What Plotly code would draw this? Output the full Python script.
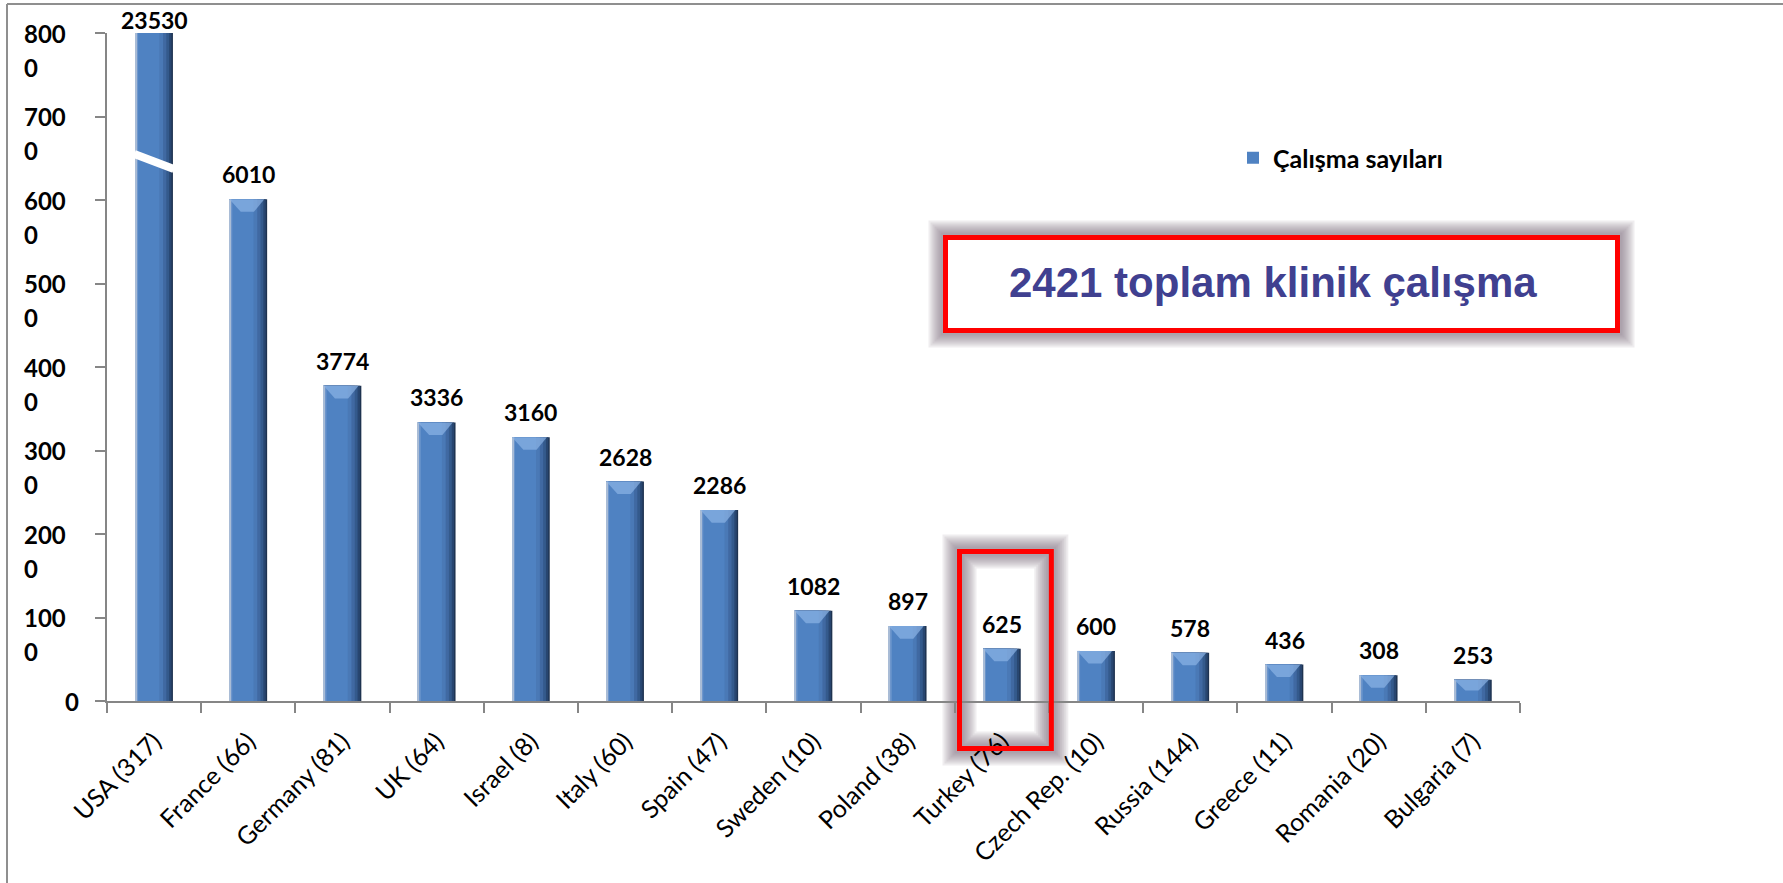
import plotly.graph_objects as go

# ---------------- data ----------------
countries = ["USA (317)", "France (66)", "Germany (81)", "UK (64)", "Israel (8)",
             "Italy (60)", "Spain (47)", "Sweden (10)", "Poland (38)", "Turkey (76)",
             "Czech Rep. (10)", "Russia (144)", "Greece (11)", "Romania (20)", "Bulgaria (7)"]
values = [23530, 6010, 3774, 3336, 3160, 2628, 2286, 1082, 897, 625, 600, 578, 436, 308, 253]
legend_name = "Çalışma sayıları"
total_text = "2421 toplam klinik çalışma"
highlight = "Turkey (76)"
y_max = 8000
y_ticks = [0, 1000, 2000, 3000, 4000, 5000, 6000, 7000, 8000]
break_values = (6550, 6370)   # where the axis-break gap crosses the clipped bar (left, right)

# ---------------- geometry (pixels) ----------------
W, H = 1783, 883
L, R, T, B = 107, 263, 33, 182
pw, ph = W - L - R, H - T - B
n = len(countries)


def px_x(p):
    return (p - L) / pw


def px_y(p):
    return (H - B - p) / ph


def cat_x(i):
    return (i + 0.5) / n


fig = go.Figure()

half = 0.20
main_colour = "#4F82C2"
layers = [  # (width from left edge, colour)
    (0.40, "#1E3350"),
    (0.385, "#284670"),
    (0.36, "#345A8C"),
    (0.33, "#4069A2"),
    (0.295, "#4A79B6"),
    (0.255, main_colour),
    (0.03, "#6E96CC"),
    (0.012, "#A9BCD6"),
]
for w, c in layers:
    fig.add_trace(go.Bar(
        x=countries, y=values, width=w, offset=-half,
        marker=dict(color=c, line=dict(width=0)),
        name=legend_name, showlegend=(c == main_colour),
        hoverinfo="skip" if c != main_colour else None,
    ))

shapes = []
annotations = []

# top chevron caps (only for bars that are not clipped)
cap_h = 150
for i, v in enumerate(values):
    if v <= y_max:
        h = min(cap_h, v * 0.5)
        shapes.append(dict(
            type="path", xref="x", yref="y", layer="above",
            path=f"M {i-half},{v} L {i+half-0.03},{v} L {i+0.06},{v-h} L {i-0.08},{v-h} Z",
            fillcolor="rgba(140,180,230,0.7)", line=dict(width=0)))

# axis break on clipped bar
i_max = values.index(max(values))
shapes.append(dict(type="line", xref="x", yref="y", layer="above",
                   x0=i_max - half - 0.01, y0=break_values[0],
                   x1=i_max + half + 0.01, y1=break_values[1],
                   line=dict(color="white", width=8)))

LAB = dict(family="Lato", size=23, color="black", weight="bold")
TICK = dict(family="Lato", size=24, color="black", weight="bold")

# data labels
for i, v in enumerate(values):
    clipped = v > y_max
    annotations.append(dict(
        x=countries[i], y=min(v, y_max), xref="x", yref="y",
        text=str(v), showarrow=False, xanchor="center", yanchor="middle",
        yshift=13 if clipped else 25, font=LAB))

# y tick labels (wrapped like the original)
for v in y_ticks:
    s = str(v)
    if len(s) > 3:
        annotations.append(dict(x=px_x(22), y=v, xref="paper", yref="y", xanchor="left",
                                yanchor="middle", text=s[:3], showarrow=False, font=TICK))
        annotations.append(dict(x=px_x(22), y=v, xref="paper", yref="y", xanchor="left",
                                yanchor="middle", yshift=-34, text=s[3:], showarrow=False,
                                font=TICK))
    else:
        annotations.append(dict(x=px_x(81), y=v, xref="paper", yref="y", xanchor="right",
                                yanchor="middle", text=s, showarrow=False, font=TICK))


# soft shadow helper
def glow(x0, y0, x1, y1, layer):
    out = []
    for wdt in [34, 30, 26, 22, 18, 14, 10]:
        out.append(dict(type="rect", xref="paper", yref="paper", layer=layer,
                        x0=x0, y0=y0, x1=x1, y1=y1,
                        line=dict(color="rgba(105,95,112,0.11)", width=wdt)))
    return out


# big text box
bx0, bx1, by0, by1 = px_x(945.5), px_x(1617.5), px_y(237.5), px_y(330.5)
shapes += glow(bx0, by0, bx1, by1, "above")
shapes.append(dict(type="rect", xref="paper", yref="paper", layer="above",
                   x0=bx0, y0=by0, x1=bx1, y1=by1, fillcolor="white",
                   line=dict(color="#FF0000", width=5)))
annotations.append(dict(x=px_x(1273), y=px_y(282), xref="paper", yref="paper",
                        xanchor="center", yanchor="middle",
                        text=total_text, showarrow=False,
                        font=dict(family="Liberation Sans, Arial", size=42,
                                  color="#404090", weight="bold")))

# highlight box around Turkey
hi = countries.index(highlight)
tx0, tx1 = cat_x(hi) - 0.45 / n, cat_x(hi) + 0.525 / n
ty0, ty1 = px_y(748.5), px_y(551.5)
shapes += glow(tx0, ty0, tx1, ty1, "below")
shapes.append(dict(type="rect", xref="paper", yref="paper", layer="above",
                   x0=tx0, y0=ty0, x1=tx1, y1=ty1,
                   line=dict(color="#FF0000", width=5)))

# outer frame (top and left)
shapes.append(dict(type="line", xref="paper", yref="paper", x0=px_x(7), x1=px_x(W),
                   y0=px_y(4), y1=px_y(4), line=dict(color="#8F8F8F", width=2)))
shapes.append(dict(type="line", xref="paper", yref="paper", x0=px_x(7), x1=px_x(7),
                   y0=px_y(4), y1=px_y(H), line=dict(color="#8F8F8F", width=2)))

fig.update_layout(
    width=W, height=H,
    margin=dict(l=L, r=R, t=T, b=B, pad=0),
    barmode="overlay",
    paper_bgcolor="white", plot_bgcolor="rgba(0,0,0,0)",
    showlegend=True,
    legend=dict(x=px_x(1233), y=px_y(158), xanchor="left", yanchor="middle",
                font=dict(family="Lato", size=25, color="black", weight="bold"),
                bgcolor="rgba(0,0,0,0)"),
    shapes=shapes, annotations=annotations,
    xaxis=dict(type="category", range=[-0.5, n - 0.5], showline=True,
               linecolor="#868686", linewidth=2, ticks="outside", tickson="boundaries",
               ticklen=10, tickcolor="#868686", tickwidth=2, tickangle=-45,
               ticklabelstandoff=14,
               tickfont=dict(family="Lato", size=25, color="black"), showgrid=False),
    yaxis=dict(range=[0, y_max], showline=True, linecolor="#868686", linewidth=2,
               ticks="outside", ticklen=10, tickcolor="#868686", tickwidth=2,
               tickvals=y_ticks, showticklabels=False, showgrid=False, zeroline=False),
)

fig.write_html("out.html", config={"displayModeBar": False},
               post_script="document.body.style.margin='0';document.body.style.overflow='hidden';")
